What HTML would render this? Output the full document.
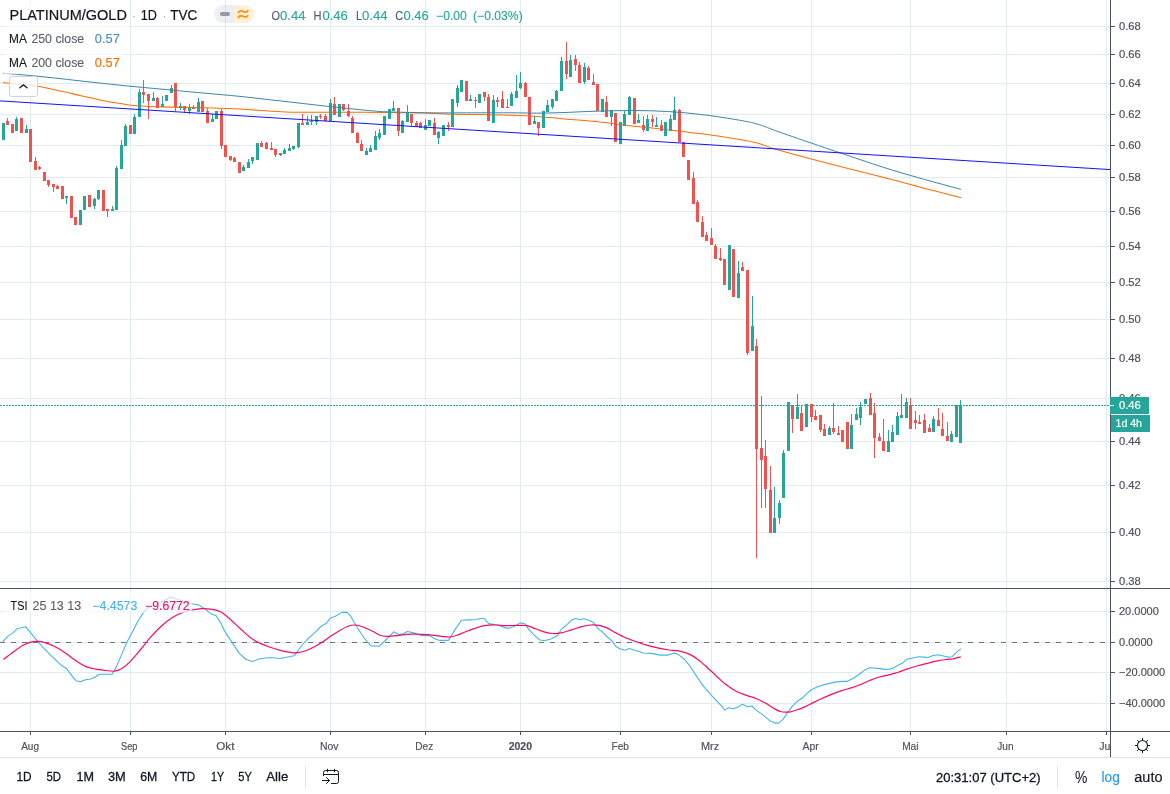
<!DOCTYPE html><html><head><meta charset="utf-8"><title>PLATINUM/GOLD</title><style>html,body{margin:0;padding:0;background:#fff;overflow:hidden}body{width:1170px;height:794px;font-family:"Liberation Sans",sans-serif}</style></head><body><svg width="1170" height="794" viewBox="0 0 1170 794" style="display:block;will-change:transform;font-family:'Liberation Sans',sans-serif">
<rect width="1170" height="794" fill="#fff"/>
<path d="M30.5 0V588M30.5 589V731M130.5 0V588M130.5 589V731M225.5 0V588M225.5 589V731M330.5 0V588M330.5 589V731M425.5 0V588M425.5 589V731M520.5 0V588M520.5 589V731M620.5 0V588M620.5 589V731M711.5 0V588M711.5 589V731M811.5 0V588M811.5 589V731M910.5 0V588M910.5 589V731M1006.5 0V588M1006.5 589V731M1106.5 0V588M1106.5 589V731M0 26.5H1110M0 54.5H1110M0 83.5H1110M0 114.5H1110M0 145.5H1110M0 177.5H1110M0 211.5H1110M0 246.5H1110M0 282.5H1110M0 319.5H1110M0 358.5H1110M0 398.5H1110M0 441.5H1110M0 485.5H1110M0 532.5H1110M0 581.5H1110M0 611.5H1110M0 642.5H1110M0 672.5H1110M0 703.5H1110" stroke="#e1ecf2" stroke-width="1" fill="none" shape-rendering="crispEdges"/>
<defs><clipPath id="cp"><rect x="0" y="0" width="1110" height="588"/></clipPath><clipPath id="cp2"><rect x="0" y="589" width="1110" height="142"/></clipPath></defs>
<g clip-path="url(#cp)" fill="none">
<path d="M3.0 82.6C8.7 83.2 27.2 84.9 37.0 86.3C46.8 87.7 54.0 89.6 61.5 91.2C69.0 92.8 75.2 94.4 82.0 95.9C88.8 97.4 97.1 99.3 102.6 100.4C108.1 101.5 110.9 102.0 115.0 102.7C119.1 103.4 122.9 104.2 127.0 104.7C131.1 105.2 134.7 105.6 139.5 105.9C144.3 106.2 148.5 106.5 156.0 106.8C163.5 107.0 176.4 107.2 184.6 107.4C192.8 107.6 198.2 107.6 205.0 107.8C211.8 108.0 219.8 108.2 225.6 108.4C231.4 108.6 230.8 108.5 240.0 109.1C249.2 109.6 270.8 111.2 281.0 111.7C291.2 112.2 291.2 112.2 301.5 112.3C311.8 112.4 328.9 112.3 342.6 112.3C356.3 112.3 369.9 112.3 383.6 112.4C397.3 112.5 414.4 112.7 424.6 113.0C434.8 113.3 435.8 113.7 445.0 114.0C454.2 114.3 469.0 114.4 480.0 114.6C491.0 114.8 501.4 114.9 510.8 115.2C520.2 115.5 527.9 115.8 536.4 116.4C544.9 117.0 552.1 117.8 562.0 118.7C571.9 119.6 584.4 120.4 596.0 121.6C607.6 122.8 619.8 124.5 631.8 125.9C643.8 127.3 655.7 128.4 667.7 129.8C679.7 131.2 691.6 132.5 703.6 134.1C715.6 135.7 730.5 138.0 739.5 139.5C748.5 141.0 751.4 141.5 757.4 143.1C763.4 144.7 766.4 146.6 775.4 149.2C784.4 151.8 799.4 155.7 811.3 158.9C823.2 162.1 835.0 165.1 847.0 168.2C859.0 171.2 871.0 174.1 883.0 177.2C895.0 180.3 906.0 183.5 919.0 186.9C932.0 190.3 954.0 195.9 961.0 197.7" stroke="#ff6d00" stroke-width="1.05"/>
<path d="M3.5 123V140M16.5 117V131M26.5 125V133M66.5 196V204M80.5 210V225M84.5 196V210M94.5 198V209M98.5 190V200M112.5 206V211M116.5 166V210M121.5 140V169M125.5 124V146M134.5 114V134M139.5 89V117M153.5 92V101M162.5 96V107M166.5 95V101M171.5 85V93M180.5 103V110M189.5 104V114M198.5 98V112M212.5 114V122M216.5 111V119M243.5 165V171M248.5 159V168M252.5 157V164M257.5 143V160M280.5 153V156M284.5 148V154M289.5 144V151M293.5 146V150M298.5 123V148M307.5 116V125M311.5 115V125M316.5 116V125M330.5 99V121M339.5 104V117M366.5 148V155M370.5 145V152M375.5 131V150M379.5 129V140M384.5 116V135M389.5 109V119M393.5 101V111M402.5 120V133M407.5 105V122M425.5 119V130M429.5 120V126M438.5 131V144M443.5 125V136M452.5 99V127M457.5 85V107M461.5 80V92M470.5 95V101M479.5 94V103M493.5 95V123M511.5 92V106M516.5 75V98M520.5 72V89M534.5 116V124M543.5 111V128M547.5 100V112M552.5 99V109M556.5 90V101M561.5 57V91M570.5 55V77M584.5 63V84M602.5 99V112M611.5 110V126M620.5 122V144M624.5 111V126M629.5 96V115M638.5 114V123M647.5 115V131M656.5 117V127M665.5 122V136M670.5 115V131M674.5 97V120M729.5 245V290M738.5 261V298M752.5 296V351M774.5 487V533M779.5 500V524M783.5 450V498M788.5 402V451M797.5 394V419M806.5 404V427M829.5 426V435M851.5 414V449M856.5 408V420M860.5 402V425M865.5 399V404M888.5 430V452M892.5 425V442M897.5 412V435M901.5 394V418M906.5 398V418M933.5 416V432M951.5 431V442M956.5 405V437M960.5 400V443" stroke="#26a69a" stroke-width="1" shape-rendering="crispEdges"/>
<path d="M7.5 118V125M12.5 124V133M21.5 118V133M30.5 129V162M35.5 157V170M39.5 166V170M44.5 172V181M48.5 180V187M53.5 184V192M57.5 185V189M62.5 186V199M71.5 196V218M75.5 217V225M89.5 195V207M103.5 190V211M107.5 209V217M130.5 125V134M143.5 80V103M148.5 94V119M157.5 97V108M175.5 83V111M184.5 106V113M193.5 105V109M202.5 101V112M207.5 108V123M221.5 109V149M225.5 145V157M230.5 156V161M234.5 157V162M239.5 162V173M261.5 141V147M266.5 142V149M271.5 142V150M275.5 149V157M302.5 114V125M320.5 114V119M325.5 114V121M334.5 97V115M343.5 104V111M348.5 104V117M352.5 116V133M357.5 132V143M361.5 140V151M398.5 108V136M411.5 114V126M416.5 121V127M420.5 122V128M434.5 118V135M448.5 122V131M466.5 81V101M475.5 97V108M484.5 92V101M488.5 94V121M497.5 97V107M502.5 91V108M507.5 99V108M525.5 82V97M529.5 97V125M538.5 122V136M566.5 42V79M575.5 55V71M579.5 62V83M588.5 66V80M593.5 74V85M597.5 84V111M606.5 96V117M615.5 113V142M634.5 98V124M643.5 116V132M652.5 115V127M661.5 120V131M679.5 109V142M683.5 142V157M688.5 160V180M693.5 172V204M697.5 200V222M702.5 216V237M706.5 232V241M711.5 228V245M715.5 244V259M720.5 248V261M724.5 259V285M733.5 249V297M742.5 262V271M747.5 270V355M756.5 339V558M761.5 396V508M765.5 440V508M770.5 466V533M792.5 405V433M801.5 406V431M811.5 404V422M815.5 410V420M820.5 415V432M824.5 424V436M833.5 403V434M838.5 426V435M842.5 430V442M847.5 422V449M870.5 393V415M874.5 403V458M879.5 433V441M883.5 419V451M910.5 398V429M915.5 411V429M919.5 415V424M924.5 414V433M929.5 424V432M938.5 408V426M942.5 413V436M947.5 422V441" stroke="#ef5350" stroke-width="1" shape-rendering="crispEdges"/>
<path d="M2 123h3v17h-3zM15 119h3v12h-3zM25 129h3v4h-3zM65 196h3v2h-3zM79 210h3v15h-3zM83 196h3v14h-3zM93 199h3v7h-3zM97 190h3v9h-3zM111 209h3v2h-3zM115 168h3v42h-3zM120 145h3v24h-3zM124 126h3v20h-3zM133 117h3v17h-3zM138 92h3v25h-3zM152 98h3v3h-3zM161 104h3v3h-3zM165 95h3v6h-3zM170 88h3v5h-3zM179 106h3v2h-3zM188 108h3v3h-3zM197 102h3v10h-3zM211 119h3v3h-3zM215 111h3v8h-3zM242 167h3v4h-3zM247 162h3v6h-3zM251 157h3v4h-3zM256 143h3v17h-3zM279 153h3v2h-3zM283 150h3v4h-3zM288 148h3v3h-3zM292 146h3v3h-3zM297 123h3v24h-3zM306 122h3v3h-3zM310 121h3v1h-3zM315 116h3v6h-3zM329 103h3v18h-3zM338 104h3v13h-3zM365 151h3v4h-3zM369 148h3v4h-3zM374 136h3v14h-3zM378 133h3v5h-3zM383 116h3v19h-3zM388 109h3v10h-3zM392 108h3v3h-3zM401 121h3v12h-3zM406 112h3v10h-3zM424 125h3v5h-3zM428 120h3v6h-3zM437 132h3v6h-3zM442 125h3v11h-3zM451 99h3v28h-3zM456 88h3v15h-3zM460 80h3v12h-3zM469 99h3v2h-3zM478 94h3v9h-3zM492 100h3v23h-3zM510 94h3v12h-3zM515 91h3v7h-3zM519 83h3v5h-3zM533 121h3v3h-3zM542 111h3v17h-3zM546 105h3v7h-3zM551 99h3v8h-3zM555 91h3v10h-3zM560 61h3v30h-3zM569 60h3v17h-3zM583 67h3v15h-3zM601 99h3v13h-3zM610 110h3v7h-3zM619 122h3v22h-3zM623 114h3v12h-3zM628 97h3v18h-3zM637 120h3v3h-3zM646 119h3v12h-3zM655 125h3v2h-3zM664 122h3v14h-3zM669 119h3v12h-3zM673 110h3v10h-3zM728 245h3v45h-3zM737 273h3v25h-3zM751 326h3v25h-3zM773 518h3v15h-3zM778 503h3v15h-3zM782 453h3v45h-3zM787 402h3v49h-3zM796 407h3v12h-3zM805 404h3v23h-3zM828 428h3v7h-3zM850 425h3v24h-3zM855 414h3v6h-3zM859 407h3v11h-3zM864 399h3v5h-3zM887 441h3v11h-3zM891 432h3v10h-3zM896 416h3v19h-3zM900 415h3v3h-3zM905 402h3v16h-3zM932 419h3v13h-3zM950 434h3v8h-3zM955 405h3v32h-3zM959 405h3v38h-3z" fill="#26a69a" shape-rendering="crispEdges"/>
<path d="M6 121h3v4h-3zM11 124h3v9h-3zM20 118h3v15h-3zM29 129h3v33h-3zM34 161h3v9h-3zM38 167h3v2h-3zM43 172h3v9h-3zM47 180h3v5h-3zM52 184h3v3h-3zM56 186h3v3h-3zM61 186h3v13h-3zM70 196h3v22h-3zM74 217h3v8h-3zM88 195h3v12h-3zM102 190h3v21h-3zM106 209h3v2h-3zM129 125h3v9h-3zM142 92h3v3h-3zM147 94h3v7h-3zM156 98h3v10h-3zM174 83h3v24h-3zM183 106h3v4h-3zM192 107h3v2h-3zM201 101h3v11h-3zM206 111h3v12h-3zM220 111h3v35h-3zM224 145h3v12h-3zM229 156h3v4h-3zM233 158h3v4h-3zM238 162h3v11h-3zM260 143h3v4h-3zM265 143h3v6h-3zM270 148h3v2h-3zM274 149h3v6h-3zM301 123h3v2h-3zM319 116h3v1h-3zM324 116h3v5h-3zM333 104h3v11h-3zM342 104h3v6h-3zM347 111h3v5h-3zM351 118h3v15h-3zM356 133h3v10h-3zM360 144h3v7h-3zM397 108h3v23h-3zM410 114h3v9h-3zM415 123h3v4h-3zM419 123h3v5h-3zM433 123h3v12h-3zM447 125h3v2h-3zM465 81h3v20h-3zM474 100h3v1h-3zM483 92h3v5h-3zM487 97h3v24h-3zM496 100h3v2h-3zM501 99h3v9h-3zM506 107h3v1h-3zM524 83h3v14h-3zM528 97h3v28h-3zM537 122h3v6h-3zM565 61h3v13h-3zM574 59h3v6h-3zM578 65h3v18h-3zM587 68h3v12h-3zM592 82h3v3h-3zM596 84h3v27h-3zM605 102h3v15h-3zM614 113h3v29h-3zM633 98h3v26h-3zM642 125h3v5h-3zM651 119h3v3h-3zM660 125h3v6h-3zM678 110h3v32h-3zM682 142h3v15h-3zM687 160h3v20h-3zM692 178h3v26h-3zM696 202h3v20h-3zM701 222h3v15h-3zM705 235h3v6h-3zM710 238h3v7h-3zM714 246h3v13h-3zM719 258h3v2h-3zM723 259h3v26h-3zM732 249h3v48h-3zM741 267h3v4h-3zM746 270h3v83h-3zM755 346h3v103h-3zM760 448h3v12h-3zM764 456h3v33h-3zM769 490h3v43h-3zM791 405h3v14h-3zM800 413h3v18h-3zM810 404h3v13h-3zM814 416h3v4h-3zM819 415h3v15h-3zM823 429h3v7h-3zM832 428h3v4h-3zM837 433h3v2h-3zM841 430h3v12h-3zM846 422h3v27h-3zM869 398h3v17h-3zM873 413h3v25h-3zM878 437h3v4h-3zM882 441h3v10h-3zM909 405h3v24h-3zM914 420h3v3h-3zM918 422h3v2h-3zM923 420h3v13h-3zM928 428h3v4h-3zM937 420h3v6h-3zM941 429h3v7h-3zM946 436h3v5h-3z" fill="#ef5350" shape-rendering="crispEdges"/>
<path d="M3.3 73.2C7.9 73.6 21.4 74.7 30.8 75.6C40.2 76.5 51.5 77.7 60.0 78.6C68.5 79.5 70.2 79.8 82.0 81.1C93.8 82.4 115.5 84.8 131.0 86.3C146.5 87.8 162.7 89.2 175.0 90.4C187.3 91.6 194.2 92.2 205.0 93.2C215.8 94.2 227.3 95.1 240.0 96.4C252.7 97.7 267.3 99.5 281.0 101.0C294.7 102.5 308.3 104.2 322.0 105.7C335.7 107.2 352.7 109.0 363.0 110.0C373.3 111.0 376.8 111.3 383.6 111.7C390.4 112.1 397.2 112.1 404.0 112.3C410.8 112.5 417.8 112.6 424.6 112.7C431.4 112.8 435.8 112.9 445.0 112.9C454.2 112.9 469.0 112.8 480.0 112.8C491.0 112.8 501.4 112.8 510.8 112.8C520.2 112.8 527.9 113.1 536.4 113.1C544.9 113.1 552.1 112.9 562.0 112.6C571.9 112.3 584.4 111.5 596.0 111.2C607.6 110.9 619.8 110.5 631.8 110.5C643.8 110.5 655.7 110.8 667.7 111.5C679.7 112.2 691.6 113.3 703.6 114.8C715.6 116.2 730.5 118.7 739.5 120.2C748.5 121.8 751.4 122.4 757.4 124.1C763.4 125.8 766.4 127.4 775.4 130.6C784.4 133.8 800.5 139.4 811.3 143.1C822.1 146.8 828.0 148.8 840.0 152.8C852.0 156.8 869.8 163.0 883.0 167.2C896.2 171.4 906.0 174.2 919.0 177.9C932.0 181.6 954.0 187.5 961.0 189.4" stroke="#3d85a8" stroke-width="1"/>
<path d="M0 100.9L1110.5 169.6" stroke="#1212ff" stroke-width="1"/>
<path d="M0 405.5H1110" stroke="#26a69a" stroke-width="1" stroke-dasharray="2 1" shape-rendering="crispEdges"/>
</g>
<g clip-path="url(#cp2)" fill="none">
<path d="M0 642.5H1110" stroke="#757575" stroke-width="1" stroke-dasharray="5 6" shape-rendering="crispEdges"/>
<polyline points="2.6,641.9 8.5,635.6 13.0,632.9 17.0,628.8 25.6,626.7 30.8,632.9 37.6,641.4 44.4,648.9 51.3,655.8 61.5,665.3 66.7,668.8 71.8,675.6 75.9,680.7 80.3,681.8 85.5,679.7 90.6,679.0 95.0,677.3 99.1,674.2 112.1,674.2 116.2,667.1 121.4,655.1 126.5,643.1 131.6,633.6 136.8,623.3 141.9,614.8 147.0,608.2 152.1,606.2 157.3,603.8 164.1,600.4 170.9,597.0 177.8,599.4 184.6,602.1 191.5,603.8 198.3,604.8 205.1,608.9 210.3,613.4 216.1,615.8 220.5,622.6 225.6,632.9 232.5,643.1 239.3,653.4 246.2,659.5 252.3,661.6 259.8,658.8 270.1,657.5 280.3,658.5 294.0,655.8 300.9,646.5 307.7,639.0 314.5,632.9 321.4,626.0 326.5,623.3 329.9,618.2 335.0,616.5 341.9,612.4 347.0,612.4 350.4,615.8 357.3,627.7 364.1,638.0 370.9,645.9 379.5,646.2 386.8,639.0 393.7,631.8 398.8,634.6 403.9,633.5 407.4,631.5 414.2,632.9 421.0,635.6 429.6,635.6 434.7,638.7 439.8,640.4 448.4,640.4 455.2,629.4 461.4,620.2 468.9,619.9 475.7,619.5 480.9,618.5 484.3,618.5 488.7,623.6 497.9,625.0 503.1,627.1 508.2,628.4 515.0,626.0 520.2,622.9 525.3,624.0 528.7,629.4 533.8,634.6 539.0,639.7 544.1,640.7 550.9,639.0 557.8,635.3 561.2,629.4 566.3,625.3 571.5,620.2 575.6,618.5 580.0,619.5 584.1,618.8 588.5,620.2 593.7,622.6 598.8,629.4 602.2,631.8 607.4,637.0 612.5,641.4 615.9,646.5 621.0,649.3 625.5,650.0 629.6,648.6 634.7,650.3 639.8,651.7 643.2,653.0 651.8,653.4 660.3,655.1 667.2,655.1 674.7,653.0 679.1,655.1 684.3,659.2 689.4,665.3 696.2,675.6 703.1,685.9 709.9,693.7 716.8,701.2 721.9,706.4 724.6,710.1 728.7,707.7 733.8,708.8 739.0,706.4 742.4,704.3 747.5,706.7 752.0,706.0 756.1,710.1 762.9,714.9 769.7,720.7 774.9,723.1 778.5,723.1 783.0,719.4 787.1,713.2 792.2,706.4 797.4,701.2 802.5,697.8 805.9,694.4 811.0,690.0 817.9,686.5 826.4,684.1 835.0,682.1 841.8,681.4 846.9,681.4 853.8,678.0 860.6,673.2 865.7,669.4 869.8,667.7 877.7,668.4 884.5,669.4 889.7,669.1 893.1,668.1 898.2,665.3 902.3,663.3 906.8,659.2 911.9,658.2 918.7,656.8 923.8,657.1 927.9,657.5 932.4,655.8 937.5,654.7 942.6,655.8 947.8,657.1 951.9,656.8 956.3,652.4 960.8,648.9" stroke="#45b5e8" stroke-width="1.1" stroke-linejoin="round"/>
<path d="M3.4 659.5C5.1 658.2 10.3 654.2 13.7 651.7C17.1 649.2 21.0 646.4 23.9 644.8C26.8 643.2 28.5 642.7 30.8 642.1C33.1 641.5 35.3 641.4 37.6 641.4C39.9 641.4 41.5 641.5 44.4 642.4C47.2 643.2 51.3 644.8 54.7 646.5C58.1 648.2 61.6 650.4 65.0 652.7C68.4 655.0 71.8 657.9 75.2 660.2C78.6 662.5 82.1 664.9 85.5 666.4C88.9 667.9 92.3 668.4 95.7 669.1C99.1 669.8 102.9 670.1 106.0 670.5C109.1 670.9 111.9 671.5 114.5 671.2C117.1 670.9 118.8 670.3 121.4 668.8C124.0 667.2 126.8 665.0 129.9 661.9C133.0 658.8 136.8 654.1 140.2 650.0C143.6 645.9 147.0 641.2 150.4 637.3C153.8 633.4 157.3 629.8 160.7 626.7C164.1 623.6 167.5 620.8 170.9 618.5C174.3 616.2 177.8 614.4 181.2 613.0C184.6 611.6 188.1 610.7 191.5 610.0C194.9 609.3 198.3 608.7 201.7 608.6C205.1 608.5 208.9 608.8 212.0 609.3C215.1 609.8 217.7 610.2 220.5 611.7C223.3 613.2 226.0 615.5 229.1 618.2C232.2 620.9 235.9 624.6 239.3 627.7C242.7 630.8 246.2 634.4 249.6 637.0C253.0 639.6 256.4 641.4 259.8 643.1C263.2 644.8 266.7 646.0 270.1 647.2C273.5 648.4 276.9 649.4 280.3 650.3C283.7 651.2 287.8 652.0 290.6 652.4C293.5 652.8 294.5 653.1 297.4 652.7C300.2 652.3 304.3 651.3 307.7 650.0C311.1 648.7 314.5 646.8 317.9 644.8C321.3 642.8 324.8 640.3 328.2 638.0C331.6 635.7 335.1 633.2 338.5 631.2C341.9 629.2 345.8 627.0 348.7 626.0C351.6 625.0 353.3 624.9 355.6 625.0C357.9 625.1 359.6 625.7 362.4 626.7C365.2 627.7 369.7 629.8 372.6 631.2C375.5 632.6 377.6 634.4 380.0 635.3C382.4 636.1 383.9 636.2 386.8 636.3C389.7 636.3 393.1 636.0 397.1 635.6C401.1 635.2 405.7 634.4 410.8 634.2C415.9 634.0 422.8 634.2 427.9 634.6C433.0 635.0 437.8 635.9 441.5 636.3C445.2 636.7 447.5 637.2 450.1 637.0C452.7 636.8 454.3 636.2 456.9 635.3C459.5 634.4 462.4 633.0 465.5 631.8C468.6 630.6 472.3 629.2 475.7 628.1C479.1 627.0 482.6 625.8 486.0 625.3C489.4 624.8 492.8 624.9 496.2 625.0C499.6 625.1 503.1 625.7 506.5 625.7C509.9 625.8 513.4 625.3 516.8 625.3C520.2 625.3 523.9 625.1 527.0 625.7C530.1 626.3 532.8 627.8 535.6 628.8C538.5 629.8 541.3 631.0 544.1 631.8C546.9 632.6 549.8 633.3 552.6 633.5C555.5 633.7 558.1 633.5 561.2 632.9C564.4 632.3 568.1 630.8 571.5 629.8C574.9 628.8 578.6 627.5 581.7 626.7C584.8 625.9 587.4 625.2 590.3 625.0C593.1 624.8 595.9 624.8 598.8 625.3C601.6 625.8 604.5 626.8 607.4 628.1C610.2 629.4 613.1 631.4 615.9 632.9C618.7 634.4 621.0 635.8 624.4 637.3C627.8 638.8 632.7 640.5 636.4 641.8C640.1 643.1 643.0 644.1 646.7 645.2C650.4 646.3 654.9 647.4 658.6 648.2C662.3 649.0 665.8 649.6 668.9 650.0C672.0 650.4 674.8 650.2 677.4 650.6C680.0 651.0 682.0 651.6 684.3 652.4C686.6 653.1 688.8 653.9 691.1 655.1C693.4 656.3 695.6 657.8 697.9 659.5C700.2 661.2 702.5 663.3 704.8 665.3C707.1 667.3 709.3 669.4 711.6 671.5C713.9 673.6 716.2 675.9 718.5 678.0C720.8 680.1 722.4 681.9 725.3 684.1C728.1 686.3 732.2 689.2 735.6 691.0C739.0 692.8 742.4 693.9 745.8 695.1C749.2 696.4 752.7 697.1 756.1 698.5C759.5 699.9 764.0 702.4 766.3 703.6C768.6 704.9 768.5 705.1 770.0 706.0C771.5 706.9 773.4 708.2 775.1 709.1C776.8 710.0 778.6 711.0 780.3 711.5C782.0 712.0 783.7 712.2 785.4 712.2C787.1 712.2 788.5 712.2 790.5 711.8C792.5 711.4 795.1 710.6 797.4 709.8C799.7 709.0 801.7 708.2 804.2 707.1C806.8 706.0 809.9 704.3 812.7 702.9C815.6 701.5 818.2 700.2 821.3 698.8C824.4 697.4 828.1 695.8 831.5 694.4C834.9 693.0 838.4 691.7 841.8 690.6C845.2 689.5 849.0 688.6 852.1 687.6C855.2 686.6 857.8 685.6 860.6 684.5C863.4 683.4 866.0 682.0 869.1 680.7C872.2 679.5 876.0 678.0 879.4 677.0C882.8 676.0 886.6 675.4 889.7 674.6C892.8 673.8 895.4 673.1 898.2 672.2C901.1 671.3 903.7 670.1 906.8 669.1C909.9 668.1 913.6 667.0 917.0 666.0C920.4 665.0 923.9 664.1 927.3 663.3C930.7 662.4 934.4 661.5 937.5 660.9C940.6 660.3 943.5 659.9 946.1 659.5C948.7 659.1 950.5 659.2 952.9 658.8C955.3 658.3 959.5 657.1 960.8 656.8" stroke="#fa0a64" stroke-width="1.2"/>
</g>
<path d="M0 588.5H1170M0 731.5H1170M1110.5 0V757" stroke="#4f5261" stroke-width="1" fill="none" shape-rendering="crispEdges"/>
<path d="M1111 26.5h4M1111 54.5h4M1111 83.5h4M1111 114.5h4M1111 145.5h4M1111 177.5h4M1111 211.5h4M1111 246.5h4M1111 282.5h4M1111 319.5h4M1111 358.5h4M1111 398.5h4M1111 441.5h4M1111 485.5h4M1111 532.5h4M1111 581.5h4M1111 611.5h4M1111 642.5h4M1111 672.5h4M1111 703.5h4M30.5 732v3M130.5 732v3M225.5 732v3M330.5 732v3M425.5 732v3M520.5 732v3M620.5 732v3M711.5 732v3M811.5 732v3M910.5 732v3M1006.5 732v3M1106.5 732v3" stroke="#4f5261" stroke-width="1" fill="none" shape-rendering="crispEdges"/>
<path d="M0 757.5H1170" stroke="#e0e3eb" stroke-width="1" shape-rendering="crispEdges"/>
<text x="1119" y="30.1" font-size="11" fill="#50535e" stroke="#50535e" stroke-width="0.2" textLength="21.8" lengthAdjust="spacingAndGlyphs" >0.68</text>
<text x="1119" y="58.1" font-size="11" fill="#50535e" stroke="#50535e" stroke-width="0.2" textLength="21.8" lengthAdjust="spacingAndGlyphs" >0.66</text>
<text x="1119" y="87.1" font-size="11" fill="#50535e" stroke="#50535e" stroke-width="0.2" textLength="21.8" lengthAdjust="spacingAndGlyphs" >0.64</text>
<text x="1119" y="118.1" font-size="11" fill="#50535e" stroke="#50535e" stroke-width="0.2" textLength="21.8" lengthAdjust="spacingAndGlyphs" >0.62</text>
<text x="1119" y="149.1" font-size="11" fill="#50535e" stroke="#50535e" stroke-width="0.2" textLength="21.8" lengthAdjust="spacingAndGlyphs" >0.60</text>
<text x="1119" y="181.1" font-size="11" fill="#50535e" stroke="#50535e" stroke-width="0.2" textLength="21.8" lengthAdjust="spacingAndGlyphs" >0.58</text>
<text x="1119" y="215.1" font-size="11" fill="#50535e" stroke="#50535e" stroke-width="0.2" textLength="21.8" lengthAdjust="spacingAndGlyphs" >0.56</text>
<text x="1119" y="250.1" font-size="11" fill="#50535e" stroke="#50535e" stroke-width="0.2" textLength="21.8" lengthAdjust="spacingAndGlyphs" >0.54</text>
<text x="1119" y="286.1" font-size="11" fill="#50535e" stroke="#50535e" stroke-width="0.2" textLength="21.8" lengthAdjust="spacingAndGlyphs" >0.52</text>
<text x="1119" y="323.1" font-size="11" fill="#50535e" stroke="#50535e" stroke-width="0.2" textLength="21.8" lengthAdjust="spacingAndGlyphs" >0.50</text>
<text x="1119" y="362.1" font-size="11" fill="#50535e" stroke="#50535e" stroke-width="0.2" textLength="21.8" lengthAdjust="spacingAndGlyphs" >0.48</text>
<text x="1119" y="402.1" font-size="11" fill="#50535e" stroke="#50535e" stroke-width="0.2" textLength="21.8" lengthAdjust="spacingAndGlyphs" >0.46</text>
<text x="1119" y="445.1" font-size="11" fill="#50535e" stroke="#50535e" stroke-width="0.2" textLength="21.8" lengthAdjust="spacingAndGlyphs" >0.44</text>
<text x="1119" y="489.1" font-size="11" fill="#50535e" stroke="#50535e" stroke-width="0.2" textLength="21.8" lengthAdjust="spacingAndGlyphs" >0.42</text>
<text x="1119" y="536.1" font-size="11" fill="#50535e" stroke="#50535e" stroke-width="0.2" textLength="21.8" lengthAdjust="spacingAndGlyphs" >0.40</text>
<text x="1119" y="585.1" font-size="11" fill="#50535e" stroke="#50535e" stroke-width="0.2" textLength="21.8" lengthAdjust="spacingAndGlyphs" >0.38</text>
<text x="1119" y="615.1" font-size="11" fill="#50535e" stroke="#50535e" stroke-width="0.2" textLength="39.8" lengthAdjust="spacingAndGlyphs" >20.0000</text>
<text x="1119" y="646.1" font-size="11" fill="#50535e" stroke="#50535e" stroke-width="0.2" textLength="33.7" lengthAdjust="spacingAndGlyphs" >0.0000</text>
<text x="1119" y="676.1" font-size="11" fill="#50535e" stroke="#50535e" stroke-width="0.2" textLength="46.2" lengthAdjust="spacingAndGlyphs" >−20.0000</text>
<text x="1119" y="707.1" font-size="11" fill="#50535e" stroke="#50535e" stroke-width="0.2" textLength="46.2" lengthAdjust="spacingAndGlyphs" >−40.0000</text>
<rect x="1110" y="397" width="39" height="17" fill="#26a69a"/>
<rect x="1111" y="415" width="39" height="17" fill="#26a69a"/>
<path d="M1110 405.5h4" stroke="#fff" stroke-width="1" shape-rendering="crispEdges"/>
<text x="1119" y="409.4" font-size="11" fill="#fff" stroke="#fff" stroke-width="0.2" textLength="21.8" lengthAdjust="spacingAndGlyphs" >0.46</text>
<text x="1115.5" y="427.4" font-size="11" fill="#fff" stroke="#fff" stroke-width="0.2" textLength="26.5" lengthAdjust="spacingAndGlyphs" >1d 4h</text>
<defs><clipPath id="cp3"><rect x="0" y="732" width="1110" height="25"/></clipPath></defs><g clip-path="url(#cp3)">
<text x="21.2" y="749.8" font-size="11" fill="#50535e" stroke="#50535e" stroke-width="0.2" textLength="17.8" lengthAdjust="spacingAndGlyphs" >Aug</text>
<text x="121" y="749.8" font-size="11" fill="#50535e" stroke="#50535e" stroke-width="0.2" textLength="16.4" lengthAdjust="spacingAndGlyphs" >Sep</text>
<text x="216.3" y="749.8" font-size="11" fill="#50535e" stroke="#50535e" stroke-width="0.2" textLength="18.1" lengthAdjust="spacingAndGlyphs" >Okt</text>
<text x="320" y="749.8" font-size="11" fill="#50535e" stroke="#50535e" stroke-width="0.2" textLength="18.6" lengthAdjust="spacingAndGlyphs" >Nov</text>
<text x="415.3" y="749.8" font-size="11" fill="#50535e" stroke="#50535e" stroke-width="0.2" textLength="17.9" lengthAdjust="spacingAndGlyphs" >Dez</text>
<text x="508.7" y="749.8" font-size="11" fill="#50535e" stroke="#50535e" stroke-width="0.2" textLength="23.3" lengthAdjust="spacingAndGlyphs" font-weight="bold" >2020</text>
<text x="611.5" y="749.8" font-size="11" fill="#50535e" stroke="#50535e" stroke-width="0.2" textLength="17.5" lengthAdjust="spacingAndGlyphs" >Feb</text>
<text x="701" y="749.8" font-size="11" fill="#50535e" stroke="#50535e" stroke-width="0.2" textLength="18.1" lengthAdjust="spacingAndGlyphs" >Mrz</text>
<text x="802.5" y="749.8" font-size="11" fill="#50535e" stroke="#50535e" stroke-width="0.2" textLength="16.3" lengthAdjust="spacingAndGlyphs" >Apr</text>
<text x="902.2" y="749.8" font-size="11" fill="#50535e" stroke="#50535e" stroke-width="0.2" textLength="16.3" lengthAdjust="spacingAndGlyphs" >Mai</text>
<text x="997.3" y="749.8" font-size="11" fill="#50535e" stroke="#50535e" stroke-width="0.2" textLength="16.3" lengthAdjust="spacingAndGlyphs" >Jun</text>
<text x="1099.3" y="749.8" font-size="11" fill="#50535e" stroke="#50535e" stroke-width="0.2" textLength="13.4" lengthAdjust="spacingAndGlyphs" >Jul</text>
</g>
<path d="M4 2H129V27H124V74H4z" fill="#fff" opacity="0.62"/>
<rect x="4" y="593" width="188" height="20" fill="#fff" opacity="0.62"/>
<text x="9.5" y="19.6" font-size="14" fill="#131722" stroke="#131722" stroke-width="0.2" textLength="117.4" lengthAdjust="spacingAndGlyphs" >PLATINUM/GOLD</text>
<text x="131.8" y="19.6" font-size="13" fill="#a3a6af" stroke="#a3a6af" stroke-width="0" >·</text>
<text x="140.8" y="19.6" font-size="14" fill="#131722" stroke="#131722" stroke-width="0.2" textLength="16.2" lengthAdjust="spacingAndGlyphs" >1D</text>
<text x="162.3" y="19.6" font-size="13" fill="#a3a6af" stroke="#a3a6af" stroke-width="0" >·</text>
<text x="170.3" y="19.6" font-size="14" fill="#131722" stroke="#131722" stroke-width="0.2" textLength="27" lengthAdjust="spacingAndGlyphs" >TVC</text>
<path d="M223 5H234V23H223a9 9 0 0 1 0-18z" fill="#4a5070" fill-opacity="0.095"/>
<path d="M234 5H245a9 9 0 0 1 0 18H234z" fill="#ff9800" fill-opacity="0.14"/>
<path d="M222 14H228" stroke="#9598a1" stroke-width="4" stroke-linecap="round"/>
<path d="M238.4 12.5C239.6 10.6 241.4 10.6 243 11.4S246.6 12.7 247.7 10.7M238.4 17.4C239.6 15.5 241.4 15.5 243 16.3S246.6 17.6 247.7 15.6" stroke="#ff9100" stroke-width="1.8" fill="none" stroke-linecap="round"/>
<text x="271.5" y="19.6" font-size="12" fill="#565a6e" stroke="#565a6e" stroke-width="0.12" textLength="8.5" lengthAdjust="spacingAndGlyphs" >O</text>
<text x="280" y="19.6" font-size="12" fill="#26a69a" stroke="#26a69a" stroke-width="0.12" textLength="25.5" lengthAdjust="spacingAndGlyphs" >0.44</text>
<text x="313.4" y="19.6" font-size="12" fill="#565a6e" stroke="#565a6e" stroke-width="0.12" textLength="8" lengthAdjust="spacingAndGlyphs" >H</text>
<text x="322.4" y="19.6" font-size="12" fill="#26a69a" stroke="#26a69a" stroke-width="0.12" textLength="25.5" lengthAdjust="spacingAndGlyphs" >0.46</text>
<text x="356" y="19.6" font-size="12" fill="#565a6e" stroke="#565a6e" stroke-width="0.12" textLength="6" lengthAdjust="spacingAndGlyphs" >L</text>
<text x="362" y="19.6" font-size="12" fill="#26a69a" stroke="#26a69a" stroke-width="0.12" textLength="25.5" lengthAdjust="spacingAndGlyphs" >0.44</text>
<text x="395.3" y="19.6" font-size="12" fill="#565a6e" stroke="#565a6e" stroke-width="0.12" textLength="8" lengthAdjust="spacingAndGlyphs" >C</text>
<text x="403.5" y="19.6" font-size="12" fill="#26a69a" stroke="#26a69a" stroke-width="0.12" textLength="25.3" lengthAdjust="spacingAndGlyphs" >0.46</text>
<text x="436" y="19.6" font-size="12" fill="#26a69a" stroke="#26a69a" stroke-width="0.12" textLength="30.9" lengthAdjust="spacingAndGlyphs" >−0.00</text>
<text x="473" y="19.6" font-size="12" fill="#26a69a" stroke="#26a69a" stroke-width="0.12" textLength="49.7" lengthAdjust="spacingAndGlyphs" >(−0.03%)</text>
<text x="9" y="42.7" font-size="12" fill="#131722" stroke="#131722" stroke-width="0.12" textLength="17.8" lengthAdjust="spacingAndGlyphs" >MA</text>
<text x="31.4" y="42.7" font-size="12" fill="#5d606b" stroke="#5d606b" stroke-width="0.12" textLength="52.8" lengthAdjust="spacingAndGlyphs" >250 close</text>
<text x="94.8" y="42.7" font-size="12" fill="#4a8fb5" stroke="#4a8fb5" stroke-width="0.12" textLength="25" lengthAdjust="spacingAndGlyphs" >0.57</text>
<text x="9" y="66.7" font-size="12" fill="#131722" stroke="#131722" stroke-width="0.12" textLength="17.8" lengthAdjust="spacingAndGlyphs" >MA</text>
<text x="31.4" y="66.7" font-size="12" fill="#5d606b" stroke="#5d606b" stroke-width="0.12" textLength="52.8" lengthAdjust="spacingAndGlyphs" >200 close</text>
<text x="94.8" y="66.7" font-size="12" fill="#ff6d00" stroke="#ff6d00" stroke-width="0.12" textLength="25" lengthAdjust="spacingAndGlyphs" >0.57</text>
<rect x="9.5" y="76.5" width="28" height="20" rx="2.5" fill="#fff" fill-opacity="0.8" stroke="#d1d4dc" stroke-width="1"/>
<path d="M19.8 87.8L23.45 84.9L27.1 87.8" stroke="#1e222d" stroke-width="1.35" fill="none" stroke-linecap="round"/>
<text x="10.6" y="609.7" font-size="12" fill="#131722" stroke="#131722" stroke-width="0.12" textLength="16.8" lengthAdjust="spacingAndGlyphs" >TSI</text>
<text x="32.5" y="609.7" font-size="12" fill="#5d606b" stroke="#5d606b" stroke-width="0.12" textLength="48.7" lengthAdjust="spacingAndGlyphs" >25 13 13</text>
<text x="92.3" y="609.7" font-size="12" fill="#42b4e6" stroke="#42b4e6" stroke-width="0.12" textLength="45" lengthAdjust="spacingAndGlyphs" >−4.4573</text>
<text x="145" y="609.7" font-size="12" fill="#fa0a64" stroke="#fa0a64" stroke-width="0.12" textLength="44.7" lengthAdjust="spacingAndGlyphs" >−9.6772</text>
<text x="16.4" y="781.4" font-size="13" fill="#131722" stroke="#131722" stroke-width="0.3" textLength="15.1" lengthAdjust="spacingAndGlyphs" >1D</text>
<text x="46.5" y="781.4" font-size="13" fill="#131722" stroke="#131722" stroke-width="0.3" textLength="14.6" lengthAdjust="spacingAndGlyphs" >5D</text>
<text x="76.6" y="781.4" font-size="13" fill="#131722" stroke="#131722" stroke-width="0.3" textLength="17.5" lengthAdjust="spacingAndGlyphs" >1M</text>
<text x="108" y="781.4" font-size="13" fill="#131722" stroke="#131722" stroke-width="0.3" textLength="17.8" lengthAdjust="spacingAndGlyphs" >3M</text>
<text x="140.2" y="781.4" font-size="13" fill="#131722" stroke="#131722" stroke-width="0.3" textLength="17.1" lengthAdjust="spacingAndGlyphs" >6M</text>
<text x="171.9" y="781.4" font-size="13" fill="#131722" stroke="#131722" stroke-width="0.3" textLength="23.3" lengthAdjust="spacingAndGlyphs" >YTD</text>
<text x="211" y="781.4" font-size="13" fill="#131722" stroke="#131722" stroke-width="0.3" textLength="13" lengthAdjust="spacingAndGlyphs" >1Y</text>
<text x="238.3" y="781.4" font-size="13" fill="#131722" stroke="#131722" stroke-width="0.3" textLength="13.5" lengthAdjust="spacingAndGlyphs" >5Y</text>
<text x="266.3" y="781.4" font-size="13" fill="#131722" stroke="#131722" stroke-width="0.3" textLength="21.9" lengthAdjust="spacingAndGlyphs" >Alle</text>
<path d="M305.5 766V788M1057.5 766V788" stroke="#e0e3eb" stroke-width="1" shape-rendering="crispEdges"/>
<g stroke="#131722" stroke-width="1" fill="none" stroke-linecap="round"><path d="M323.5 775.5V772.5a2 2 0 0 1 2-2H336.5a2 2 0 0 1 2 2V781.5a2 2 0 0 1-2 2H331.5M323.5 774.5H338.5M327.5 769.2V771.8M334.5 769.2V771.8M322.3 780.5H329.5M326.5 777.5L329.5 780.5L326.5 783.5"/></g>
<text x="936" y="782.1" font-size="13.4" fill="#131722" stroke="#131722" stroke-width="0.3" textLength="104.7" lengthAdjust="spacingAndGlyphs" >20:31:07 (UTC+2)</text>
<text x="1074.9" y="783" font-size="16" fill="#131722" stroke="#131722" stroke-width="0.05" textLength="12.4" lengthAdjust="spacingAndGlyphs" >%</text>
<text x="1101.6" y="782" font-size="14" fill="#2196f3" stroke="#2196f3" stroke-width="0.1" textLength="18.2" lengthAdjust="spacingAndGlyphs" >log</text>
<text x="1134.3" y="782" font-size="14" fill="#131722" stroke="#131722" stroke-width="0.15" textLength="28.2" lengthAdjust="spacingAndGlyphs" >auto</text>
<g stroke="#131722" fill="none"><circle cx="1142.5" cy="745.5" r="5" stroke-width="1.1"/><path d="M1147.80 745.50L1150.10 745.50M1142.50 750.80L1142.50 753.10M1137.20 745.50L1134.90 745.50M1142.50 740.20L1142.50 737.90" stroke-width="1.1"/></g>
<g fill="#131722" shape-rendering="crispEdges"><rect x="1137.0" y="740.0" width="1" height="1" opacity="0.85"/><rect x="1138.0" y="741.0" width="1" height="1" opacity="0.9"/><rect x="1137.0" y="750.0" width="1" height="1" opacity="0.85"/><rect x="1138.0" y="749.0" width="1" height="1" opacity="0.9"/><rect x="1147.0" y="740.0" width="1" height="1" opacity="0.85"/><rect x="1146.0" y="741.0" width="1" height="1" opacity="0.9"/><rect x="1147.0" y="750.0" width="1" height="1" opacity="0.85"/><rect x="1146.0" y="749.0" width="1" height="1" opacity="0.9"/></g>
</svg></body></html>
